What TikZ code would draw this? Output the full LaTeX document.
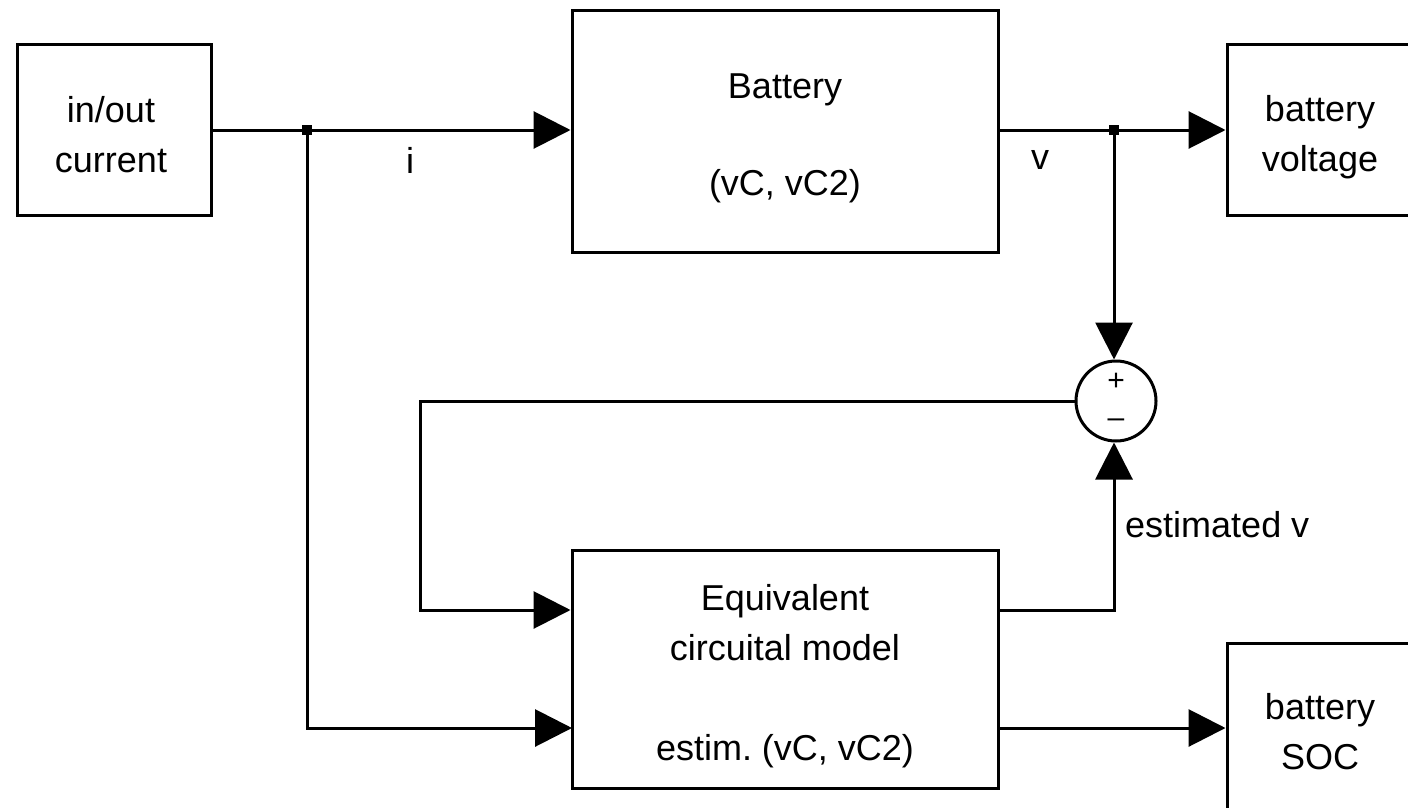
\documentclass[tikz,border=0pt]{standalone}
\usepackage{fontspec}
\setmainfont{Liberation Sans}
\usetikzlibrary{arrows.meta}
\frenchspacing
\tikzset{
  blk/.style={draw, line width=3pt, inner sep=0pt},
  txt/.style={align=center, inner sep=0pt, font=\fontsize{36}{50}\selectfont},
  wire/.style={line width=3pt},
  arr/.style={line width=3pt, -{Triangle[length=37pt,width=37pt]}},
  jdot/.style={fill, minimum size=10pt, inner sep=0pt},
  lbl/.style={font=\fontsize{36}{42}\selectfont, inner sep=0pt},
  sgn/.style={font=\fontsize{30}{34}\selectfont, inner sep=0pt}
}
\begin{document}
\begin{tikzpicture}[x=1pt,y=-1pt]
\path[use as bounding box, clip] (0,0) rectangle (1408,808);
\fill[white] (0,0) rectangle (1408,808);

% boxes
\node[blk, minimum width=194pt, minimum height=170pt] (src) at (114,130) {};
\node[blk, minimum width=426pt, minimum height=241pt] (bat) at (785,131.5) {};
\node[blk, minimum width=186pt, minimum height=170pt] (vout) at (1320,130) {};
\node[blk, minimum width=426pt, minimum height=238pt] (eq) at (785,669) {};
\node[blk, minimum width=186pt, minimum height=178pt] (soc) at (1320,732) {};
\node[draw, circle, line width=3pt, minimum size=80pt, inner sep=0pt] (sum) at (1116,401) {};

% box texts
\node[txt] (srctxt) at (111,135) {in/out\\current};
\node[txt, font=\fontsize{36}{48.5}\selectfont] (battxt) at (785,138) {Battery\\[48.5pt](vC, vC2)};
\node[txt] (vouttxt) at (1320,137) {battery\\voltage};
\node[txt] (eqtxt) at (785,676.5) {Equivalent\\circuital model\\[50pt]estim.\ (vC, vC2)};
\node[txt] (soctxt) at (1320,732) {battery\\SOC};
\node[sgn] (plus) at (1116,382) {+};
\node[sgn] (minus) at (1116,423) {–};

% junctions
\node[jdot] (j1) at (307,130) {};
\node[jdot] (j2) at (1114,130) {};
\coordinate (fbturn) at (420,610);
\coordinate (lowin) at (572,728);

% connectors
\draw[wire] (src.east |- j1) -- (j1);
\draw[arr] (j1) -- (j1 -| bat.west);
\draw[wire] (j1 -| bat.east) -- (j2);
\draw[arr] (j2) -- (j2 -| vout.west);
\draw[arr] (j2) -- (j2 |- sum.north);
\draw[arr] (sum.west) -| (fbturn) -- (fbturn -| eq.west);
\draw[arr] (eq.east |- fbturn) -| (j2 |- sum.south);
\draw[arr] (j1) |- (lowin);
\draw[arr] (eq.east |- lowin) -- (soc.west |- lowin);

% labels
\node[lbl] (li) at (410,160) {i};
\node[lbl] (lv) at (1040,160) {v};
\node[lbl, anchor=west] (lest) at (1125,525) {estimated v};
\end{tikzpicture}
\end{document}
